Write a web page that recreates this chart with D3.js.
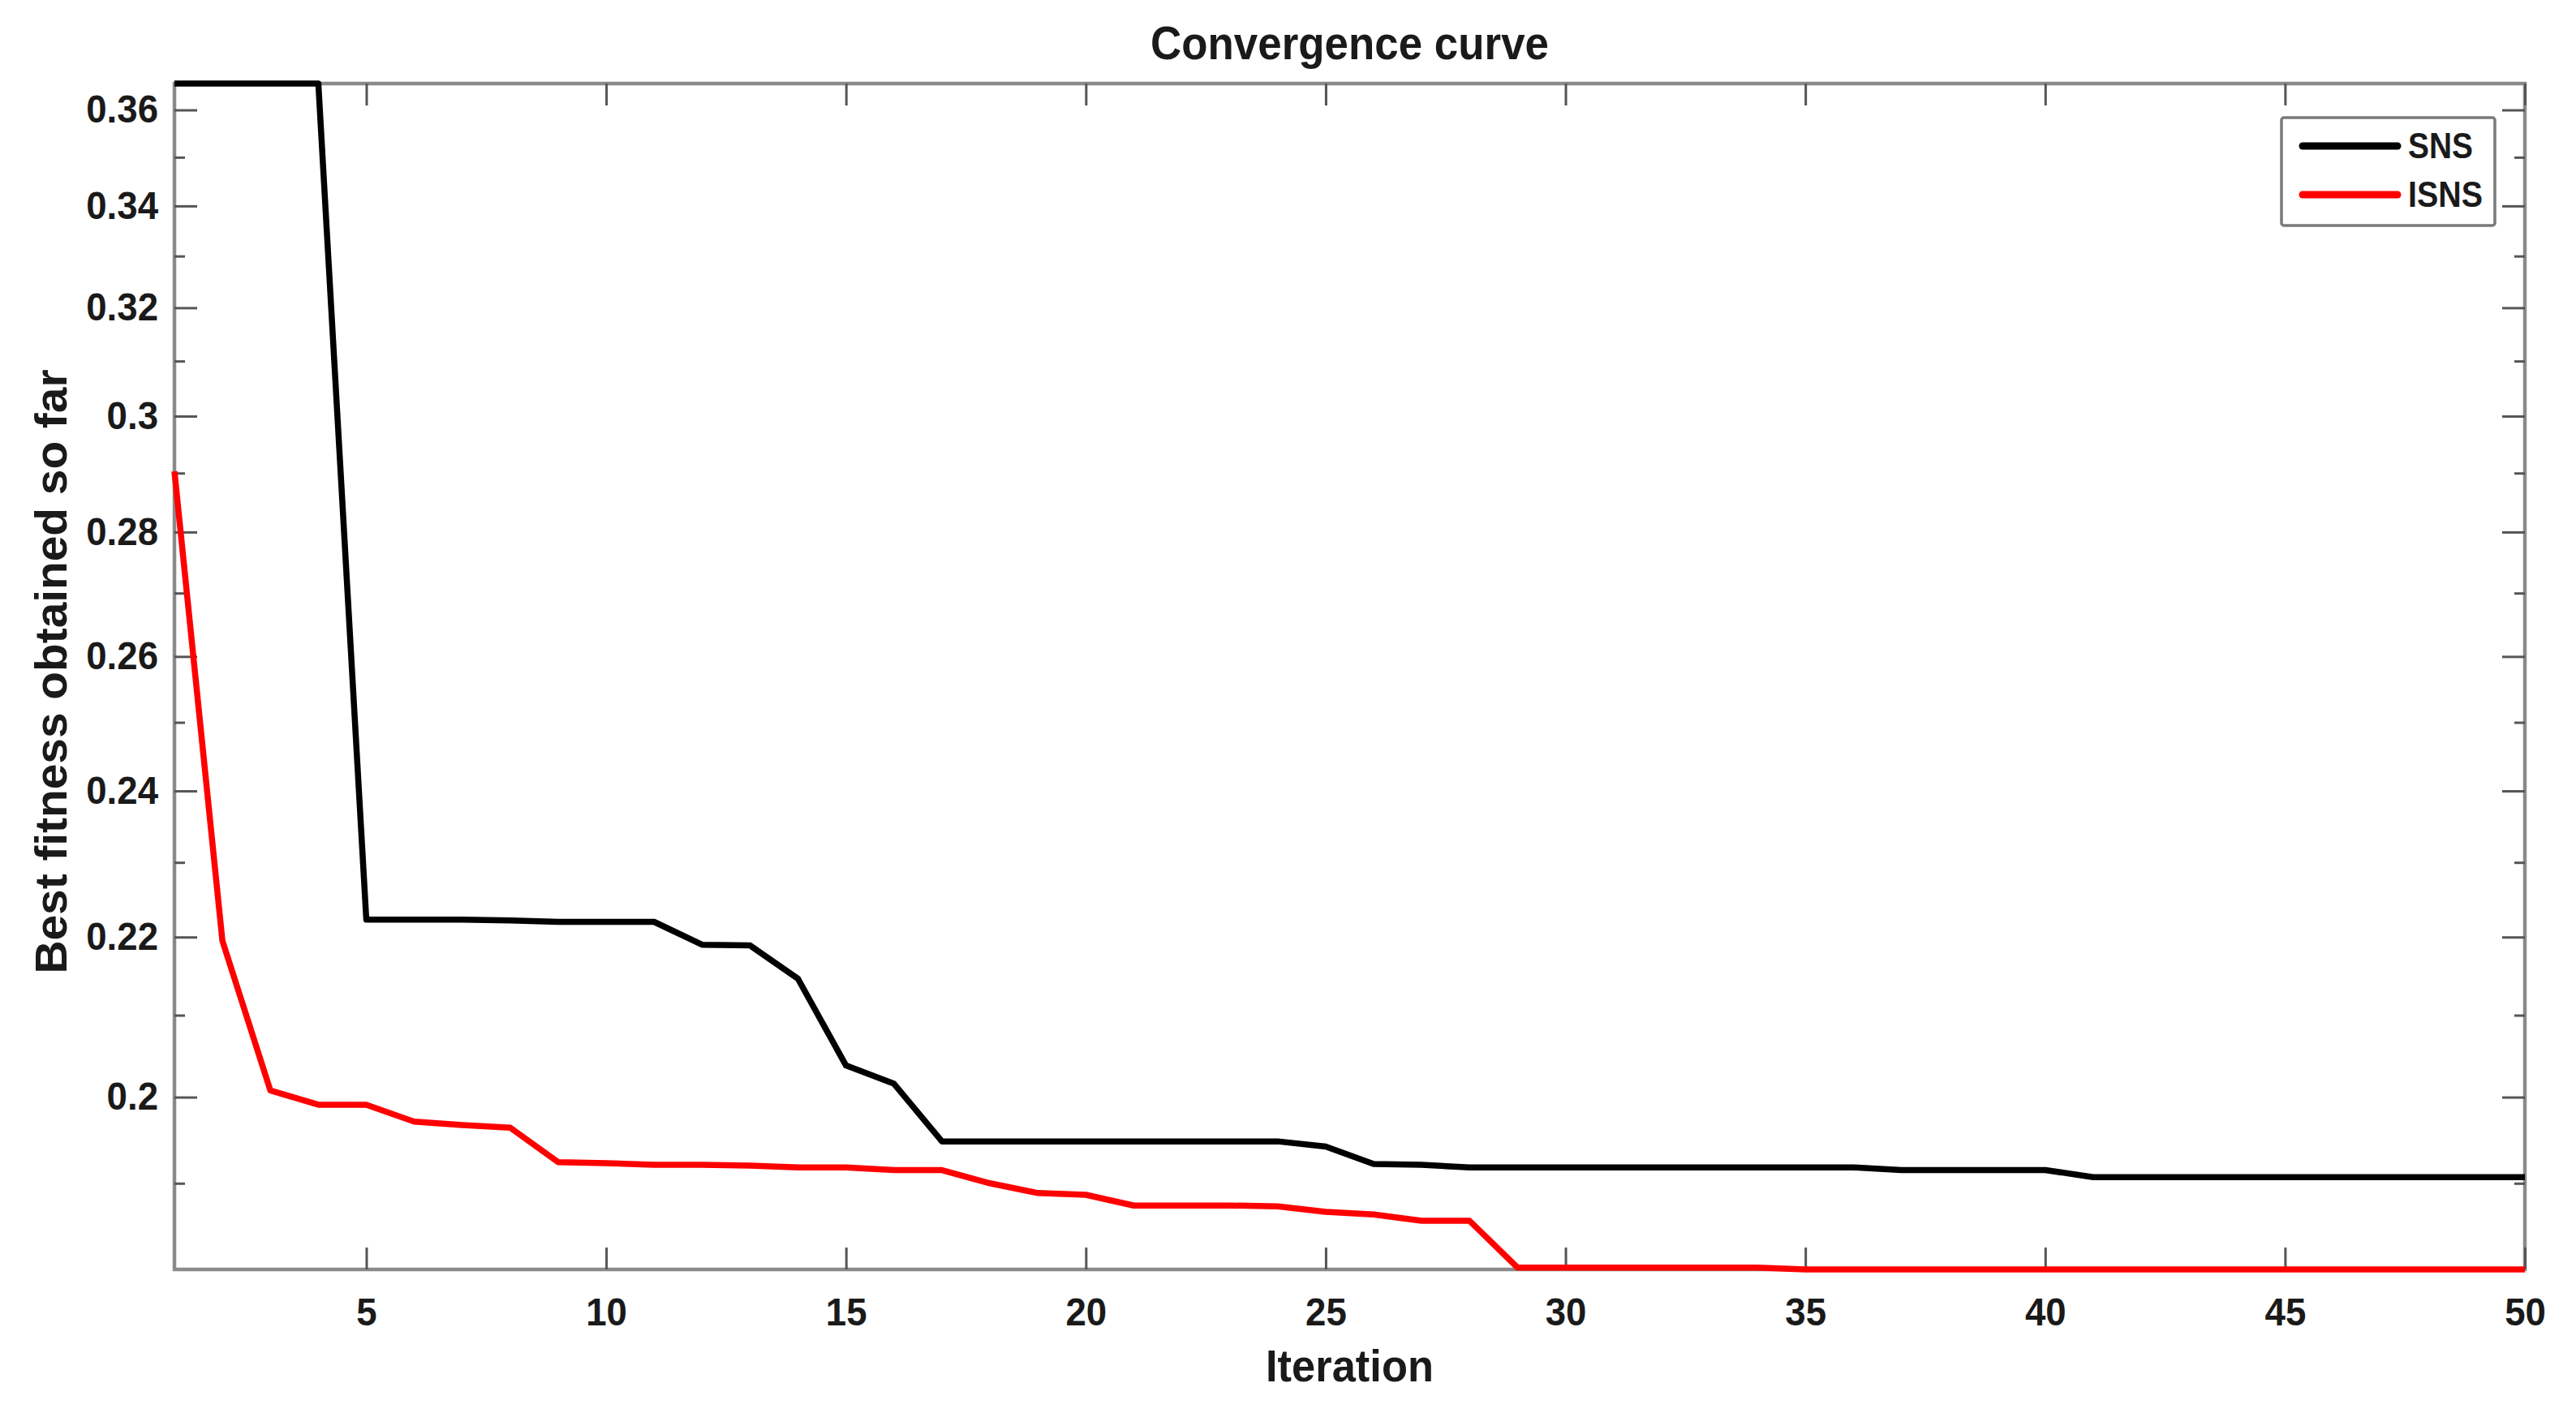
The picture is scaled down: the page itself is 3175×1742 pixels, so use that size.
<!DOCTYPE html>
<html>
<head>
<meta charset="utf-8">
<script src="https://cdn.jsdelivr.net/npm/d3@7"></script>
<style>
  html, body { margin: 0; padding: 0; background: #fff; }
  svg text { font-family: "Liberation Sans", Arial, sans-serif; font-weight: bold; fill: #1a1a1a; }
</style>
</head>
<body>
<svg id="chart" width="3175" height="1742"></svg>
<script>
const iterations = [1,2,3,4,5,6,7,8,9,10,11,12,13,14,15,16,17,18,19,20,21,22,23,24,25,26,27,28,29,30,31,32,33,34,35,36,37,38,39,40,41,42,43,44,45,46,47,48,49,50];
const snsValues = [0.3657,0.3657,0.3657,0.3657,0.2223,0.2223,0.2223,0.2222,0.2220,0.2220,
  0.2220,0.2190,0.2189,0.2146,0.2038,0.2016,0.1948,0.1948,0.1948,0.1948,
  0.1948,0.1948,0.1948,0.1948,0.1942,0.1922,0.1921,0.1918,0.1918,0.1918,
  0.1918,0.1918,0.1918,0.1918,0.1918,0.1918,0.1915,0.1915,0.1915,0.1915,
  0.1907,0.1907,0.1907,0.1907,0.1907,0.1907,0.1907,0.1907,0.1907,0.1907];
const isnsValues = [0.2903,0.2195,0.2008,0.1991,0.1991,0.1971,0.1967,0.1964,0.1924,0.1923,
  0.1921,0.1921,0.1920,0.1918,0.1918,0.1915,0.1915,0.1900,0.1889,0.1887,
  0.1875,0.1875,0.1875,0.1874,0.1868,0.1865,0.1858,0.1858,0.1807,0.1807,
  0.1807,0.1807,0.1807,0.1807,0.1805,0.1805,0.1805,0.1805,0.1805,0.1805,
  0.1805,0.1805,0.1805,0.1805,0.1805,0.1805,0.1805,0.1805,0.1805,0.1805];
const seriesNames = ["SNS", "ISNS"];
const seriesColors = ["#000000", "#ff0000"];
const xTickValues = [5,10,15,20,25,30,35,40,45,50];
const yTickValues = [0.2,0.22,0.24,0.26,0.28,0.3,0.32,0.34,0.36];
const yTickLabels = ["0.2","0.22","0.24","0.26","0.28","0.3","0.32","0.34","0.36"];
const yMinorTicks = [0.19,0.21,0.23,0.25,0.27,0.29,0.31,0.33,0.35];
const titleText = "Convergence curve";
const xLabelText = "Iteration";
const yLabelText = "Best fitness obtained so far";

const L = 215, R = 3112, T = 103, B = 1565;
const svg = d3.select("#chart");

const x = d3.scaleLinear().domain(d3.extent(iterations)).range([L, R]);
const allVals = snsValues.concat(isnsValues);
const y = d3.scaleLog().domain(d3.extent(allVals)).range([B, T]);

const axisColor = "#8a8a8a", tickColor = "#555";

// box
svg.append("rect").attr("x", L).attr("y", T).attr("width", R - L).attr("height", B - T)
  .attr("fill", "none").attr("stroke", axisColor).attr("stroke-width", 4.5);

function styleAxis(g) {
  g.select(".domain").remove();
  g.selectAll(".tick line").attr("stroke", tickColor).attr("stroke-width", 3);
  g.selectAll(".tick text").attr("fill", "#1a1a1a").attr("font-size", 48)
    .attr("font-family", "Liberation Sans, Arial, sans-serif").attr("font-weight", "bold");
}

// left axis
const yFmt = d => yTickLabels[yTickValues.indexOf(d)];
svg.append("g").attr("transform", `translate(${L},0)`)
  .call(d3.axisLeft(y).tickValues(yTickValues).tickFormat(yFmt).tickSizeInner(-28).tickSizeOuter(0).tickPadding(20))
  .call(styleAxis);
svg.append("g").attr("transform", `translate(${L},0)`)
  .call(d3.axisLeft(y).tickValues(yMinorTicks).tickFormat("").tickSizeInner(-13).tickSizeOuter(0))
  .call(styleAxis);
// right axis
svg.append("g").attr("transform", `translate(${R},0)`)
  .call(d3.axisRight(y).tickValues(yTickValues).tickFormat("").tickSizeInner(-28).tickSizeOuter(0))
  .call(styleAxis);
svg.append("g").attr("transform", `translate(${R},0)`)
  .call(d3.axisRight(y).tickValues(yMinorTicks).tickFormat("").tickSizeInner(-13).tickSizeOuter(0))
  .call(styleAxis);
// bottom axis
svg.append("g").attr("transform", `translate(0,${B})`)
  .call(d3.axisBottom(x).tickValues(xTickValues).tickFormat(d3.format("d")).tickSizeInner(-27).tickSizeOuter(0).tickPadding(35))
  .call(styleAxis);
// top axis
svg.append("g").attr("transform", `translate(0,${T})`)
  .call(d3.axisTop(x).tickValues(xTickValues).tickFormat("").tickSizeInner(-27).tickSizeOuter(0))
  .call(styleAxis);

// compress tick labels slightly (narrow look of reference)
svg.selectAll(".tick text").each(function () {
  const w = this.getComputedTextLength();
  if (w > 0) { this.setAttribute("textLength", w * 0.95); this.setAttribute("lengthAdjust", "spacingAndGlyphs"); }
});

// lines
const line = d3.line().x((d, i) => x(iterations[i])).y(d => y(d));
[snsValues, isnsValues].forEach((vals, k) => {
  svg.append("path").datum(vals).attr("d", line).attr("fill", "none")
    .attr("stroke", seriesColors[k]).attr("stroke-width", 7.5)
    .attr("stroke-linejoin", "round").attr("stroke-linecap", "butt");
});

// title and labels
svg.append("text").attr("x", (L + R) / 2).attr("y", 73).attr("text-anchor", "middle")
  .attr("font-size", 58).attr("textLength", 491).attr("lengthAdjust", "spacingAndGlyphs").text(titleText);
svg.append("text").attr("x", (L + R) / 2).attr("y", 1703).attr("text-anchor", "middle")
  .attr("font-size", 56).attr("textLength", 207).attr("lengthAdjust", "spacingAndGlyphs").text(xLabelText);
svg.append("text").attr("transform", "translate(82,828) rotate(-90)").attr("text-anchor", "middle")
  .attr("font-size", 56).attr("textLength", 745).attr("lengthAdjust", "spacingAndGlyphs").text(yLabelText);

// legend
const lg = svg.append("g");
lg.append("rect").attr("x", 2812).attr("y", 145).attr("width", 263).attr("height", 133).attr("rx", 3)
  .attr("fill", "#fff").attr("stroke", "#7a7a7a").attr("stroke-width", 3.5);
const legendY = [180, 240];
const legendTextLen = [80, 92];
seriesNames.forEach((name, k) => {
  lg.append("line").attr("x1", 2838).attr("x2", 2955).attr("y1", legendY[k]).attr("y2", legendY[k])
    .attr("stroke", seriesColors[k]).attr("stroke-width", 9).attr("stroke-linecap", "round");
  lg.append("text").attr("x", 2968).attr("y", legendY[k] + 15).attr("font-size", 44)
    .attr("textLength", legendTextLen[k]).attr("lengthAdjust", "spacingAndGlyphs").text(name);
});
</script>
</body>
</html>
